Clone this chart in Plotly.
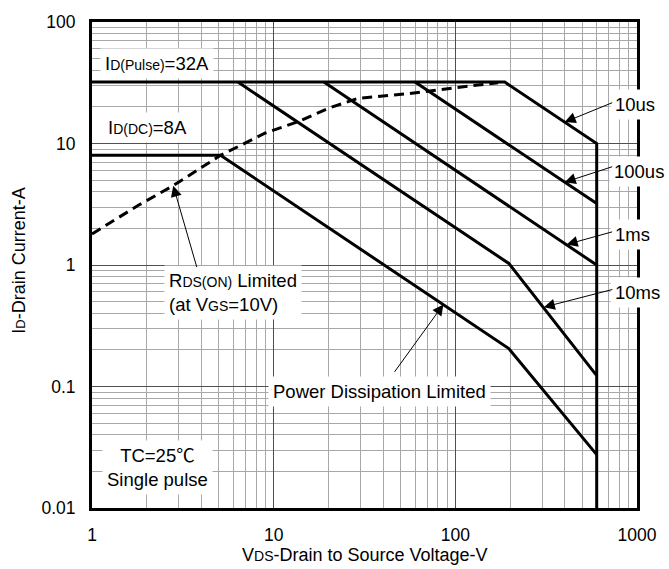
import math
import plotly.graph_objects as go

# Safe operating area boundaries: drain-source voltage (V) vs drain current (A)
v_10us = [1, 187, 600, 600]
i_10us = [32, 32, 10, 0.01]
v_100us = [60, 600]
i_100us = [32, 3.2]
v_1ms = [18.9, 600]
i_1ms = [32, 1.0]
v_10ms = [6.36, 197, 600]
i_10ms = [32, 1.03, 0.123]
v_dc = [1, 5.1, 197, 600]
i_dc = [8, 8, 0.205, 0.0275]

# RDS(ON) limit (dashed)
v_rds = [1, 1.8, 2.8, 4.2, 5.1, 7, 9, 13.6, 20, 29, 56, 125, 172]
i_rds = [1.8, 3.1, 4.5, 6.7, 8.0, 10.1, 12.2, 15.1, 19.5, 23.5, 25.8, 30, 31.6]

x_tickvals = [1, 10, 100, 1000]
x_ticktext = ["1", "10", "100", "1000"]
y_tickvals = [0.01, 0.1, 1, 10, 100]
y_ticktext = ["0.01", "0.1", "1", "10", "100"]

FONT = "Arial, 'Liberation Sans', 'Noto Sans CJK SC', sans-serif"
W, H = 669, 569
ML, MR, MT, MB = 92, 27, 16, 61
PW, PH = W - ML - MR, H - MT - MB


def sub(s, size=14):
    return f"<span style='font-size:{size}px'>{s}</span>"


def paper(px, py):
    return (px - ML) / PW, (H - MB - py) / PH


fig = go.Figure()
line = dict(color="black", width=3)
for xs, ys in [(v_10us, i_10us), (v_100us, i_100us), (v_1ms, i_1ms),
               (v_10ms, i_10ms), (v_dc, i_dc)]:
    fig.add_trace(go.Scatter(x=xs, y=ys, mode="lines", line=line,
                             hoverinfo="skip", cliponaxis=False))
fig.add_trace(go.Scatter(x=v_rds, y=i_rds, mode="lines",
                         line=dict(color="black", width=3, dash="10px,6px"),
                         hoverinfo="skip"))

annotations = []

# Text labels with white boxes
labels = [
    ("I" + sub("D(Pulse)") + "=32A", 157.5, 58, "center"),
    ("I" + sub("D(DC)") + "=8A", 148, 123, "center"),
    ("R" + sub("DS(ON)") + " Limited<br>(at V" + sub("GS") + "=10V)", 234, 290, "left"),
    ("Power Dissipation Limited", 382.5, 390, "center"),
    ("TC=25℃<br>Single pulse", 158, 467, "center"),
    ("10us", 639.5, 100, "center"),
    ("100us", 644.5, 167, "center"),
    ("1ms", 637.5, 231, "center"),
    ("10ms", 642, 289.5, "center"),
]
for text, px, py, align in labels:
    xp, yp = paper(px, py)
    annotations.append(dict(
        text=text, x=xp, y=yp, xref="paper", yref="paper",
        xanchor="center", yanchor="middle", align=align, showarrow=False,
        bgcolor="white", borderpad=4,
        font=dict(family=FONT, size=18.5, color="black")))

# Leader arrows: tip on the curve (V, A), tail offset in pixels
arrows = [
    (400, 15.0, 49, -20),
    (400, 4.8, 49, -16),
    (410, 1.476, 47, -13),
    (307, 0.45, 70, -18),
    (86, 0.474, -50, 69),
    (2.8, 4.5, 24, 83),
]
for v, i, ax, ay in arrows:
    annotations.append(dict(
        text="", x=math.log10(v), y=math.log10(i), xref="x", yref="y",
        ax=ax, ay=ay, showarrow=True, arrowhead=2, arrowsize=2.2,
        arrowwidth=1, arrowcolor="black", standoff=0))

# Axis titles
xp, yp = paper(367, 556)
annotations.append(dict(
    text="V" + sub("DS") + "-Drain to Source Voltage-V", x=xp, y=yp,
    xref="paper", yref="paper", showarrow=False,
    xanchor="center", yanchor="middle",
    font=dict(family=FONT, size=18, color="black")))
xp, yp = paper(18, 258)
annotations.append(dict(
    text="I" + sub("D", 13) + "-Drain Current-A", x=xp, y=yp,
    xref="paper", yref="paper", showarrow=False, textangle=-90,
    xanchor="center", yanchor="middle",
    font=dict(family=FONT, size=18, color="black")))

axis_common = dict(
    type="log", showline=True, linewidth=3, linecolor="black", mirror=True,
    showgrid=True, gridcolor="#505050", gridwidth=1, ticks="",
    minor=dict(dtick="D1", showgrid=True, gridcolor="#a8a8a8", gridwidth=1),
    tickfont=dict(family=FONT, size=17.5, color="black"), zeroline=False,
)
fig.update_layout(
    width=W, height=H, margin=dict(l=ML, r=MR, t=MT, b=MB),
    paper_bgcolor="white", plot_bgcolor="white", showlegend=False,
    xaxis=dict(range=[0, 3], tickvals=x_tickvals, ticktext=x_ticktext,
               ticklabelstandoff=9, **axis_common),
    yaxis=dict(range=[-2, 2], tickvals=y_tickvals, ticktext=y_ticktext,
               ticklabelstandoff=10, **axis_common),
    annotations=annotations,
)

fig.write_html("out.html")
